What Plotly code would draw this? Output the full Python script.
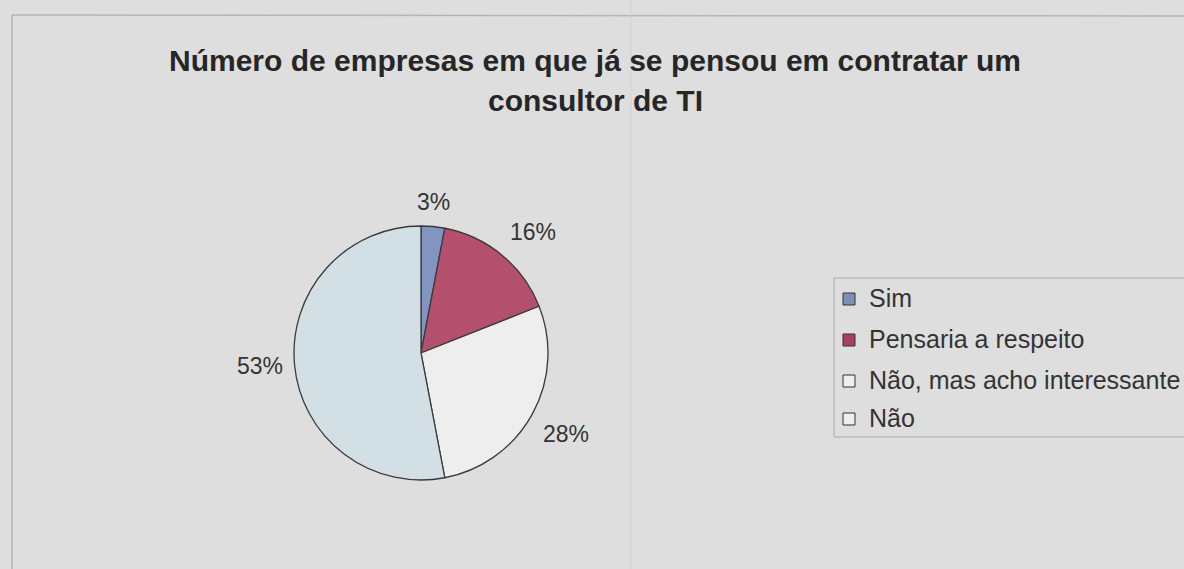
import math
import plotly.graph_objects as go

W, H = 1184, 569

# Survey answers and their shares (%)
labels = ["Sim", "Pensaria a respeito", "Não, mas acho interessante", "Não"]
values = [3, 16, 28, 53]
colors = ["#8195c0", "#b4506e", "#eeeeee", "#d2dfe5"]
title_lines = ["Número de empresas em que já se pensou em contratar um",
               "consultor de TI"]

BG = "#dedede"
LINE = "#3a3a3a"
FONT = "Liberation Sans, Arial"

# pie placement in pixels
cx, cy, R = 421, 353, 127


def px(x):
    return x / W


def py(y):
    return 1 - y / H


fig = go.Figure()
fig.add_trace(go.Pie(
    labels=labels,
    values=values,
    sort=False,
    direction="clockwise",
    rotation=0,
    marker=dict(colors=colors, line=dict(color=LINE, width=1.3)),
    textinfo="none",
    hoverinfo="label+percent",
    showlegend=False,
    domain=dict(x=[px(cx - R), px(cx + R)], y=[py(cy + R), py(cy - R)]),
))

annotations = []
shapes = []

# percentage labels outside each slice
total = sum(values)
cum = 0
for v in values:
    mid = (cum + v / 2) / total * 2 * math.pi
    cum += v
    s, c = math.sin(mid), math.cos(mid)
    d = R + 10
    ax_, ay_ = cx + d * s, cy - d * c
    xa = "left" if s > 0.3 else ("right" if s < -0.3 else "center")
    ya = "bottom" if c > 0.3 else ("top" if c < -0.3 else "middle")
    annotations.append(dict(
        x=px(ax_), y=py(ay_), xref="paper", yref="paper",
        text=f"{round(v / total * 100)}%", showarrow=False,
        xanchor=xa, yanchor=ya,
        font=dict(family=FONT, size=23, color="#333333"),
    ))

# title
for i, line in enumerate(title_lines):
    annotations.append(dict(
        x=px(595), y=py(60 + 41 * i), xref="paper", yref="paper",
        text=f"<b>{line}</b>", showarrow=False, xanchor="center", yanchor="middle",
        font=dict(family=FONT, size=30, color="#262626"),
    ))

# legend box and entries
shapes.append(dict(type="rect", xref="paper", yref="paper",
                   x0=px(834), x1=px(1195), y0=py(437), y1=py(278),
                   line=dict(color="#aaaaaa", width=1), fillcolor="rgba(0,0,0,0)"))
legend_y = [298, 339, 380, 418]
swatch = ["#7f8fb8", "#a8405e", "#eeeeee", "#eeeeee"]
for lab, col, y in zip(labels, swatch, legend_y):
    shapes.append(dict(type="rect", xref="paper", yref="paper",
                       x0=px(843), x1=px(855), y0=py(y + 7), y1=py(y - 5),
                       line=dict(color="#333333", width=1), fillcolor=col))
    annotations.append(dict(
        x=px(867), y=py(y), xref="paper", yref="paper",
        text=lab, showarrow=False, xanchor="left", yanchor="middle",
        font=dict(family=FONT, size=25, color="#333333"),
    ))

# chart frame
shapes.append(dict(type="line", xref="paper", yref="paper",
                   x0=px(12), x1=px(1190), y0=py(15), y1=py(16),
                   line=dict(color="#b5b5b5", width=1.5)))
shapes.append(dict(type="line", xref="paper", yref="paper",
                   x0=px(12), x1=px(12), y0=py(15), y1=py(575),
                   line=dict(color="#b5b5b5", width=1.5)))
shapes.append(dict(type="line", xref="paper", yref="paper",
                   x0=px(631), x1=px(631), y0=py(0), y1=py(569),
                   line=dict(color="#d2d2d2", width=1)))

fig.update_layout(
    width=W, height=H,
    margin=dict(l=0, r=0, t=0, b=0),
    paper_bgcolor=BG, plot_bgcolor=BG,
    annotations=annotations, shapes=shapes,
    showlegend=False,
)

fig.write_html("out.html")
